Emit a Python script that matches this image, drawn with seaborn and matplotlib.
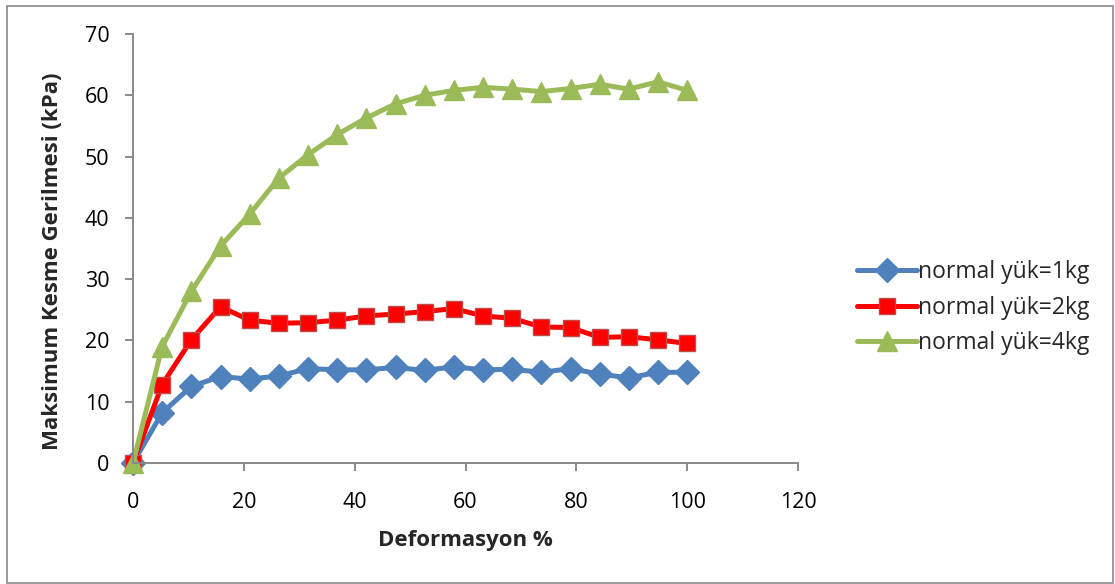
import pandas as pd
import matplotlib
matplotlib.use('Agg')
import matplotlib.pyplot as plt
import seaborn as sns
from matplotlib.patches import Rectangle

# === Data ===
deformasyon = [0, 5.26, 10.53, 15.79, 21.05, 26.32, 31.58, 36.84, 42.11, 47.37,
               52.63, 57.89, 63.16, 68.42, 73.68, 78.95, 84.21, 89.47, 94.74, 100]
yuk_1kg = [0, 8.2, 12.5, 14.1, 13.7, 14.2, 15.4, 15.2, 15.2, 15.6,
           15.1, 15.7, 15.2, 15.3, 14.8, 15.4, 14.5, 13.9, 14.8, 14.8]
yuk_2kg = [0, 12.8, 20.1, 25.5, 23.3, 22.8, 22.9, 23.3, 24.0, 24.3,
           24.7, 25.2, 24.0, 23.6, 22.2, 22.1, 20.5, 20.6, 20.1, 19.5]
yuk_4kg = [0, 19.0, 28.0, 35.4, 40.6, 46.5, 50.3, 53.6, 56.3, 58.6,
           60.0, 60.8, 61.3, 61.0, 60.6, 61.1, 61.8, 61.0, 62.2, 60.8]

labels = ["normal yük=1kg", "normal yük=2kg", "normal yük=4kg"]

df = pd.DataFrame({
    "Deformasyon": deformasyon * 3,
    "Gerilme": yuk_1kg + yuk_2kg + yuk_4kg,
    "Seri": [labels[0]] * 20 + [labels[1]] * 20 + [labels[2]] * 20,
})

# === Style ===
sns.set_theme(style='white')
plt.rcParams['font.family'] = ['Open Sans', 'DejaVu Sans']

colors = {labels[0]: '#4F81BD', labels[1]: '#FF0000', labels[2]: '#9BBB59'}
markers = {labels[0]: 'D', labels[1]: 's', labels[2]: '^'}
edges = {labels[0]: '#4F81BD', labels[1]: '#BE4B48', labels[2]: '#9BBB59'}
sizes = {labels[0]: 12, labels[1]: 12, labels[2]: 14}

fig = plt.figure(figsize=(11.15, 5.84), dpi=100)
ax = fig.add_axes([0.1193, 0.2072, 0.5964, 0.7346])

for lab in labels:
    sub = df[df['Seri'] == lab]
    sns.lineplot(data=sub, x='Deformasyon', y='Gerilme', ax=ax, color=colors[lab],
                 marker=markers[lab], markersize=sizes[lab], markeredgecolor=edges[lab],
                 markeredgewidth=1, linewidth=3.6, label=lab, clip_on=False)

ax.set_xlim(0, 120)
ax.set_ylim(0, 70)
ax.set_xticks(range(0, 121, 20))
ax.set_yticks(range(0, 71, 10))
ax.set_xlabel("Deformasyon %", fontsize=16, fontweight='bold', labelpad=12)
ax.set_ylabel("Maksimum Kesme Gerilmesi (kPa)", fontsize=16, fontweight='bold', labelpad=12)
ax.yaxis.set_label_coords(-0.106, 0.47)

for s in ['top', 'right']:
    ax.spines[s].set_visible(False)
for s in ['left', 'bottom']:
    ax.spines[s].set_color('#898989')
    ax.spines[s].set_linewidth(1.4)
ax.tick_params(axis='both', which='major', direction='out', length=6, width=1.4,
               color='#898989', labelsize=15.5, labelcolor='black', pad=11,
               bottom=True, left=True)
ax.tick_params(axis='x', pad=15)

leg = ax.legend(loc='center left', bbox_to_anchor=(0.769, 0.473), bbox_transform=fig.transFigure,
                frameon=False, fontsize=16.5, handlelength=2.6, handletextpad=0.05,
                labelspacing=0.5, borderaxespad=0, borderpad=0)

# chart border
fig.patches.append(Rectangle((7 / 1115, 1 / 584), 1106 / 1115, 577 / 584,
                             transform=fig.transFigure, fill=False,
                             edgecolor='#898989', linewidth=1.2))

fig.savefig('out.png', dpi=100)
